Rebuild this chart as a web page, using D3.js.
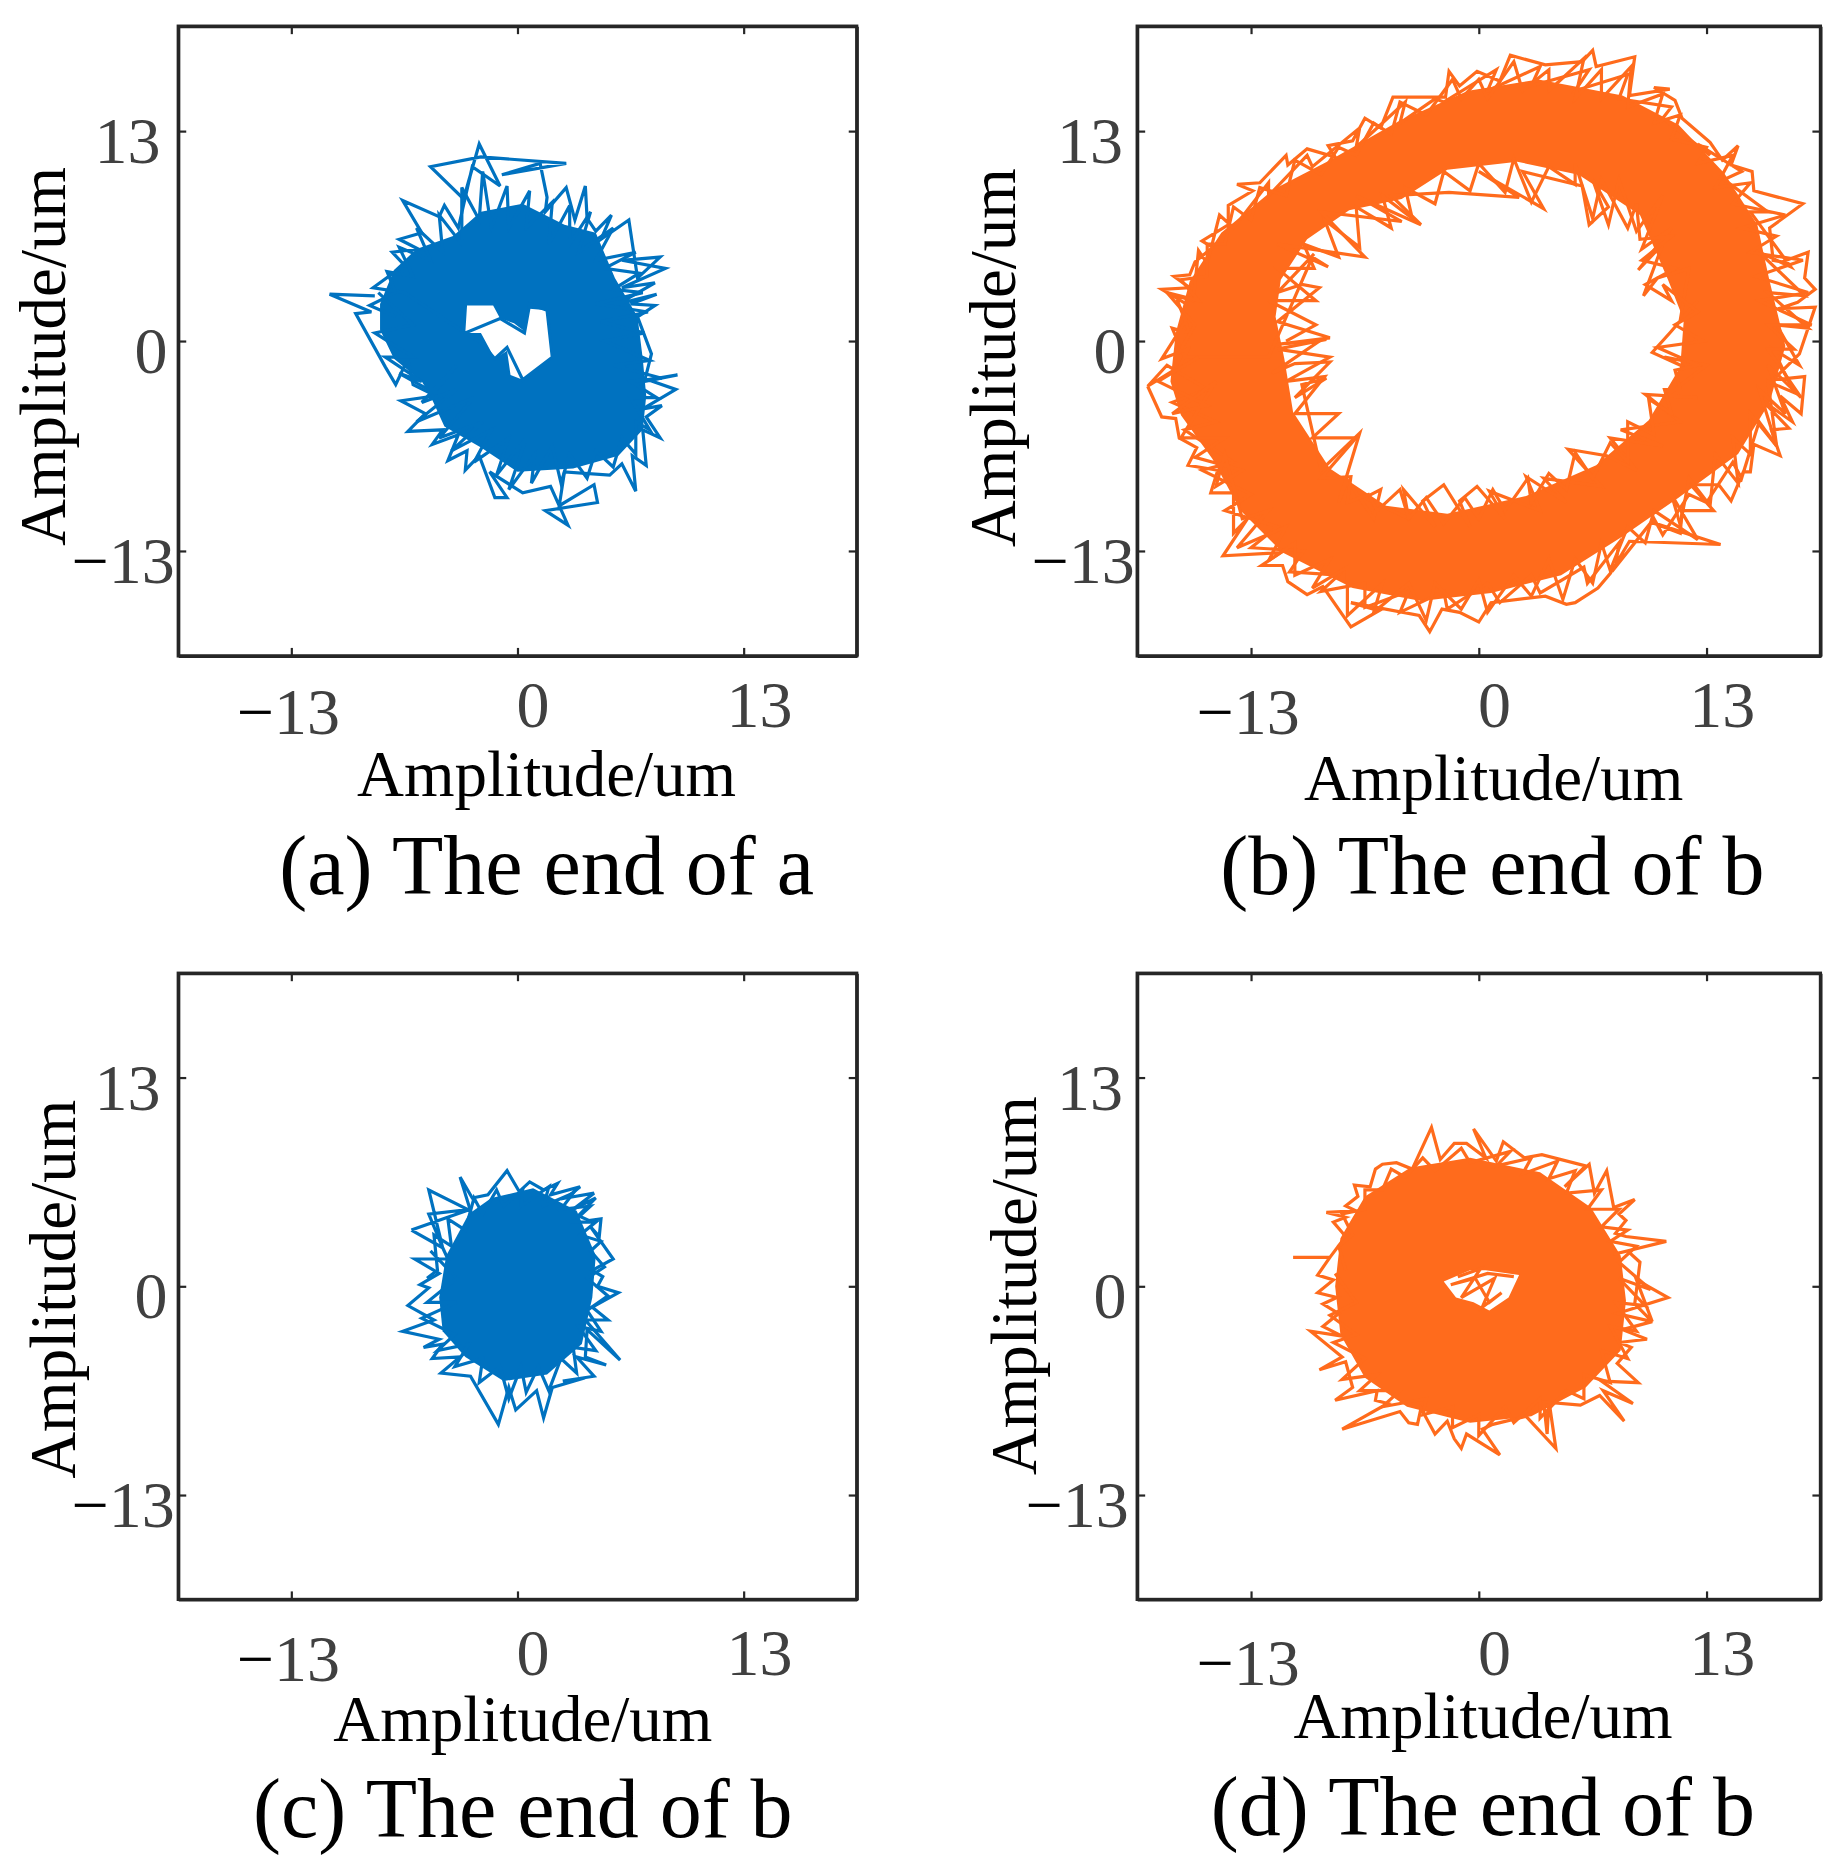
<!DOCTYPE html>
<html><head><meta charset="utf-8">
<script src="https://cdn.jsdelivr.net/npm/d3@7/dist/d3.min.js"></script>
<style>html,body{margin:0;padding:0;background:#fff}svg{display:block}text{font-family:"Liberation Serif",serif}</style>
</head><body>
<svg id="c" width="1843" height="1863"></svg>
<script>
const tickValues = [-13, 0, 13];
const domainLimit = 19.5;
const axisTitle = "Amplitude/um";

const orbitA = [[-10.8,2.9],[-8.2,2.8],[-10.8,2.9],[-8.4,1.8],[-9.3,1.7],[-7.6,-1.6],[-7,-2.7],[-6.3,-1.1],[-6,-2.7],[-4.7,-3.4],[-6.7,-3.7],[-5.3,-4.5],[-6.3,-5.6],[-4.3,-5.5],[-4.9,-6.4],[-3.4,-5.8],[-4,-7.4],[-2.9,-6.8],[-3,-8],[-2.2,-7.1],[-1.3,-9.7],[-.6,-9.7],[-1.6,-8.1],[.3,-9.4],[1.9,-9],[2.9,-11.4],[1.6,-10.5],[4.6,-10],[4.4,-8.9],[2.4,-10.2],[2.7,-8.1],[5.3,-8.3],[6,-7.6],[6.8,-9.3],[6.6,-7.1],[7.4,-7.7],[7.2,-5.5],[8.2,-6],[7.4,-4.7],[8.3,-4],[7.2,-4.2],[9.1,-3],[7.5,-2.4],[9.2,-2.1],[7.3,-2.5],[7.7,-.8],[6.9,1.5],[7.9,2.2],[6.5,2.3],[8,2.9],[5.8,2.3],[7.9,3.6],[6,3.3],[8.5,4.5],[6,5],[8.2,5.2],[6.9,3.9],[6.4,7.5],[4.8,6.3],[5.4,7.8],[4.5,6.8],[4,7.6],[3.9,9.6],[3.3,7.5],[2.8,9.5],[1.6,8],[1.7,8.9],[1.3,11],[-.9,10.3],[2.8,11],[-2.1,11.4],[-5,10.8],[-3.1,8.8],[-2.2,12.2],[-1,9.6],[-2.6,10.8],[-3.4,7],[-4.2,8.4],[-4.5,7.7],[-6.6,8.7],[-5.5,6.7],[-6.8,6.3],[-5.7,5.7],[-7.2,5.5],[-6.5,4.7],[-8.3,3.3],[-6.5,3],
[-3,.5],[-1,1.4],[.4,.5],[.7,2.3],[1.7,1.9],[2,-1],[.3,-2.4],[-.6,-.4],[-1.3,-1.1],[-2.1,-.1],[-3,.5]];
const meshA = [[-8,3],[-6,1],[-8.2,.5],[-6,-1],[-7.6,-1],[-5.5,-2.5],[-6.8,-2],[-4.8,-3.2],[-3.5,-1.5],[-5.5,-3.8],[-3.5,-3],[-5.8,-5],[-2.5,-3.5],[-4.5,-6],[-2,-5],[-3.8,-6.8],[-1.5,-5.5],[-2.5,-7.5],[-.5,-6],[-1.2,-8.3],[.5,-6],[-.5,-9.2],[1,-7],[.8,-8.8],[2,-6.5],[2.5,-8.8],[3,-7],[4,-8.5],[4.5,-6.8],[5.5,-7.8],[6,-6],[6.8,-7],[6.8,-5],[7.6,-5.5],[6.5,-3.5],[8,-3.5],[6.5,-2.5],[8.3,-2.3],[5.5,-1.5],[7.6,-1.2],[5,0],[7.3,.5],[4.8,1.2],[7.5,1.8],[4.5,2.3],[7.2,3],[5.5,3.2],[7,4.2],[5,4.5],[6.8,5.5],[4.5,5],[5.5,7],[3.5,5.5],[4.2,8],[3,6],[3,8.4],[1.8,6],[2,8.6],[.5,7],[.7,9.3],[-.5,7],[-.6,9.6],[-1.5,7],[-2,10.5],[-2.2,7.5],[-3.2,9.5],[-3.2,6],[-4.5,7.8],[-4.3,5.5],[-5.8,7],[-5,5],[-6.8,5.8],[-6,4],[-7.5,4.3],[-7,3],[-8.5,2.2],[-7,1.5]];
const solidA = [
 [[-7.9,2.3],[-7.1,4.4],[-5.8,5.7],[-3.7,6.5],[-2.1,8],[.3,8.5],[2.7,7.2],[4.5,6.7],[5.6,3.9],[6.9,1.5],[7.2,-1.1],[7.4,-3.4],[7.2,-5.5],[5.8,-7.1],[3.2,-7.9],[0,-8.1],[-2.1,-6.6],[-4.2,-5.3],[-5,-3.4],[-5.5,-2.5],[-7.1,-1.1],[-7.9,.7]],
 [[-2.9,2.2],[-1.4,2.2],[-1,1.4],[-.2,1.1],[.4,.6],[.7,2],[1.7,1.9],[1.9,-.1],[2,-1],[.3,-2.4],[-.4,-2.1],[-.6,-.6],[-1.3,-1.1],[-2.1,.5],[-3,.5]]
];

const orbitB = [[-18.9,-2.8],[-18.1,-4.7],[-17.3,-4.8],[-17.1,-6],[-16.1,-6.6],[-16.6,-7.7],[-14.9,-8],[-15.3,-9.4],[-14,-9.4],[-14,-11.9],[-13.2,-11],[-14.6,-13.3],[-11.3,-13.1],[-12.4,-13.9],[-11.2,-13.9],[-10.9,-14.9],[-9.8,-15.7],[-8.9,-15.2],[-7.3,-17.7],[-5.7,-16.7],[-7.3,-16.2],[-3.4,-17],[-2.8,-18],[-2.1,-16.6],[-1.1,-16.8],[0,-17.4],[.7,-16.2],[3.8,-15.8],[5,-16.3],[5.5,-16.2],[6.8,-15.3],[7.5,-14.4],[8.6,-12.4],[13.8,-12.6],[9.8,-11.2],[11.5,-11.9],[11.6,-10.5],[13.4,-10.5],[12.1,-8.9],[13.7,-8.9],[14.4,-9.9],[15.1,-8.1],[15.5,-8.1],[15.7,-6.4],[17.2,-7.1],[16.7,-5.5],[17.7,-5.4],[16.2,-3.7],[17.9,-5],[17.2,-3.4],[18.4,-4.5],[18.6,-2.2],[16.8,-2.4],[18.3,-.8],[19.2,2.1],[17.1,2],[18.2,2.4],[19.2,3.2],[18.6,3.9],[18.8,5.5],[17.3,4.9],[16.8,5],[16.6,7],[18.5,8.5],[15.7,9.3],[15.6,10.5],[14.4,10.9],[14.8,12.1],[13.9,11.2],[13.2,12.3],[11.6,13.8],[11.2,14.9],[10,15.7],[10.9,15.6],[8.6,15.2],[8.9,17.6],[6.7,17],[6.5,18],[5.9,17.3],[3.8,17.1],[1.8,17.7],[1.2,16.1],[-.1,16.7],[-1.1,15.8],[-1.7,16.7],[-1.9,15.1],[-4.9,15.1],[-5.6,13.2],[-6.5,13.8],[-7.2,12.4],[-8.6,12.1],[-8.2,11.4],[-9.8,11.9],[-10.9,10.9],[-11,11.5],[-12.5,9.8],[-13.8,9.7],[-12.9,9.3],[-14.3,8.4],[-14.3,7.2],[-15.8,6.2],[-15.2,5.8],[-16.2,4.9],[-16.5,4.1],[-17.4,4],[-16.5,3.3],[-18.1,3.2],[-16.7,2.3],[-16.7,1.3],[-18.1,-1.1],[-16.6,-.5],[-17.1,-1.6],[-18.9,-2.8],
[-17.8,-1.5],[-15.5,-3],[-17.5,-3.8],[-15,-5],[-16.8,-5.5],[-14,-7.5],[-15.8,-8],[-13,-9.5],[-14.5,-10.5],[-11.5,-11.5],[-13,-12.8],[-10,-13],[-10.8,-14.3],[-8,-14.5],[-9,-15.5],[-6.5,-15],[-6.5,-16.5],[-4,-15.5],[-4.5,-16.8],[-2,-15.5],[-1.8,-16.6],[.5,-15],[1.2,-16.2],[3,-14.5],[3.5,-15.6],[6,-14],[6.2,-15],[8,-12.5],[7.8,-14],[10,-11],[10.5,-12],[12,-9.5],[13,-10],[14.5,-7.5],[15,-8.5],[16,-5],[17,-6.5],[16.5,-2.5],[18,-3.2],[16.8,-.5],[18.3,-1.5],[17,1],[18.8,.8],[16.5,3],[18.6,2.8],[16,5.5],[17.8,4.6],[15.5,8],[16.5,8],[14,10],[15,10.5],[12.5,12.2],[13.2,11.5],[10.5,13.8],[11,14.5],[8,15],[8.5,16.5],[5.5,15.5],[6.3,16.8],[3,15.8],[3.5,17],[.5,15.5],[1,16.8],[-2,14.8],[-2.5,15],[-4.5,13.5],[-4.2,14.8],[-7,12],[-6.8,13.2],[-9.5,10.8],[-9.8,11.5],[-12,9],[-12,9.8],[-14,7],[-14.8,7.8],[-15.5,4.8],[-16,5.6],[-16.3,2.5],[-17.3,2.8],[-16.5,.5],[-17.5,.8],[-16.8,-1],
[-12,-1],[-9.5,5.2],[-8.6,4.6],[-11.5,6],[-6.5,5.2],[-9,8],[-4.4,7.4],[-7,9],[-3.3,7.2],[-5,9],[-1.7,9.2],[2.3,8.9],[0,10.5],[3.7,8.2],[2.5,10.5],[5.9,9.6],[6.3,7.2],[7.4,8.3],[6.5,10],[7.4,7.2],[8,10],[9,6.8],[10.5,9],[9.3,5.7],[11,7],[9.1,4.4],[10.5,6],[9.4,2.8],[10.2,3.9],[12,4.5],[11.5,1.3],[12.5,2.5],[10.9,.5],[9.9,-.7],[11.7,-1.6],[10.6,-1],[13,-1.5],[10.7,-3.4],[12.5,-3.5],[9.5,-3.3],[11.5,-5],[8.1,-5.5],[10.5,-6.5],[7.5,-6],[9,-8],[7.3,-7.1],[5.1,-6.7],[7,-9],[3.7,-8.5],[5,-10],[2.7,-8.4],[3.5,-10.5],[.6,-9.3],[1.5,-11],[-.1,-9],[-1.1,-9.9],[-.5,-11.5],[-2,-8.9],[-3.2,-9.9],[-2.5,-11.5],[-4.3,-9.2],[-4,-11],[-6.5,-9.7],[-5.6,-9.2],[-6,-11],[-7.5,-8.6],[-8,-10],[-6.8,-5.7],[-9,-8],[-10.1,-2.7],[-8.7,-2.3],[-10.5,-3.5],[-8.5,-1.3],[-10.5,-1.4],[-11.8,-2],[-9.1,0],[-11.5,-.2],[-8.5,.2],[-11.5,1.2],[-9.1,3.3],[-10.1,3.5],[-11.5,3],[-9.4,5.4]];
const meshBOuter = [[-16,-1],[-18.3,-2.5],[-15.5,-4],[-17.5,-4.5],[-15,-2.5],[-17,-6],[-14.5,-6],[-16.2,-7.2],[-13.5,-8],[-15,-9],[-14.5,-7],[-13.5,-11],[-12,-10.5],[-13.8,-12.8],[-11,-11.5],[-12,-13.6],[-10.5,-12.5],[-10.5,-14.5],[-8.5,-13.5],[-9.5,-15.3],[-7.5,-14],[-7.5,-17],[-5.5,-15],[-6,-16.8],[-4,-15],[-3,-17.3],[-2.5,-15],[-1,-16.6],[0,-14.8],[.5,-16.8],[2,-14.5],[3,-15.8],[4,-13.5],[4.8,-16],[5.5,-13.5],[6.5,-15],[7,-12.5],[7.5,-14.2],[8.5,-11.5],[9.5,-12.5],[10,-10.5],[12.5,-12.3],[11,-9.5],[11.5,-11.4],[12,-8.5],[13.2,-10.2],[13.5,-7],[14.8,-8.8],[14.5,-6],[15.5,-7],[15.5,-4.5],[17,-6.5],[16,-3],[17.5,-4.5],[16.5,-1.5],[18.4,-3.5],[16.5,-.5],[18,-.5],[16.5,1],[19,1],[16,2.5],[18.8,3],[15.8,4],[18.5,5],[15.5,5.5],[17,6.5],[15,7],[17.5,7.8],[14.5,8.5],[15.5,9.8],[13.5,9.5],[14.5,11.5],[12.5,11],[13,12],[11,12.5],[11.5,14],[10,13.5],[10.5,15.3],[8.5,14.5],[8.7,17],[7,15],[7,16.8],[5.5,15],[6,17.5],[4,15.5],[4,16.8],[2.5,15.5],[2,17.3],[.5,15],[0,16.2],[-1,15],[-1.5,16.2],[-3,14],[-4.5,14.8],[-5,12.8],[-6,13.5],[-7,11.5],[-8,12],[-9,10.3],[-10.5,11.2],[-11,9],[-12.5,9.5],[-13,7.5],[-14,8.3],[-14.5,6],[-15.5,6],[-15.5,4],[-17,3.8],[-16,2.5],[-17.8,3],[-16.2,1],[-17,-.5]];
const meshBInner = [[-11,0],[-9.3,1],[-12,2.5],[-9.3,2.5],[-11.5,4.5],[-9.4,4.5],[-10,6],[-8,5.2],[-8.8,7.5],[-6.8,5.8],[-7,8.3],[-5,7],[-5.5,9],[-3.8,7.6],[-4.2,9.5],[-2.5,8.5],[-2,10.5],[-.5,9.3],[0,11],[1.5,9.2],[2,11.3],[3,8.6],[4,10.8],[5.5,9.7],[5.5,11],[6.5,7.6],[7,10],[8.5,7],[9,8.5],[9.2,6.3],[11,6.5],[9.3,5],[11.2,4.5],[9.5,3.5],[11,2.5],[10.5,3.5],[12.5,1.8],[11.2,1],[12.8,0],[10.2,-.4],[12.5,-1.5],[11.2,-1.8],[11.5,-3],[10.6,-3],[11,-4.5],[9.7,-3.6],[10,-5.8],[8.5,-5],[8.5,-7.5],[7.5,-6.3],[6.5,-8.5],[5.5,-6.9],[5,-9.2],[4,-8.2],[3,-10],[2.8,-8.5],[1.5,-10.5],[.8,-9.2],[0,-11],[-.8,-9.7],[-2,-11.3],[-3,-9.7],[-4,-11],[-4.5,-9.2],[-5.8,-10.5],[-6.3,-9.5],[-7.5,-10],[-7.3,-8.4],[-9,-8.5],[-7,-6],[-9.5,-6],[-8,-4.5],[-10.5,-4.5],[-8.8,-2.2],[-11,-2.5],[-8.5,-1],[-11.5,-.5],[-8.7,.1]];
const solidB = [
 [[-17.6,-2.5],[-17,-4.6],[-15.2,-7.3],[-13.6,-10.5],[-11.2,-13.1],[-7.2,-15.3],[-3.3,-16.1],[.7,-15.6],[4.7,-14.5],[8.2,-12.1],[11.4,-9.7],[14.8,-7],[16.6,-3.8],[17.5,-.3],[16.6,3.7],[15.9,7.2],[14,10.4],[11.4,13.4],[8.2,15.2],[3.4,16.2],[-.6,15.5],[-4.6,13.6],[-8.5,11.2],[-11.7,9.4],[-14.7,6.7],[-16.5,3.7],[-17.3,.5]],
 [[-11.1,-1.1],[-10.6,-4.4],[-8.5,-7.9],[-5.3,-10.2],[-1.8,-10.7],[2.7,-9.6],[6.7,-7.7],[9.7,-4.9],[11.5,-1.6],[11.7,1.3],[10.8,3.8],[9.2,7.8],[5.7,10.3],[2.2,11.1],[-1.8,10.6],[-4.4,8.8],[-7.4,8.1],[-9.8,6.3],[-11.3,3.8],[-11.6,1.5]]
];

const orbitC = [[-6.1,3.5],[-2.7,4.8],[-5.1,4.5],[-4.3,2.4],[-5.1,6],[-2.7,4.7],[-3.3,6.8],[-2.6,5.5],[-1.7,5.7],[-.6,7.2],[.1,5.9],[.7,6.5],[1.5,6],[2.3,6.4],[1.9,5.7],[3.6,6.2],[2.8,5.5],[4.4,5.8],[3.2,4.8],[4.5,5.5],[3.5,4.4],[4.1,4.1],[4.8,4.2],[4.7,3.1],[4.2,3.7],[5.5,1.7],[4.3,1],[4.9,.6],[4.6,0],[5.8,-.4],[4.3,-1.3],[5.2,-2.1],[3.9,-2.1],[5.9,-4.6],[4,-2.7],[3.9,-4.4],[5.1,-4.9],[3.4,-4.4],[4.4,-5.6],[2.6,-5.9],[3.9,-5.7],[2,-6.3],[1.5,-8.2],[1.1,-6.5],[-.1,-7.7],[-.5,-6.3],[-1.1,-8.6],[-2.7,-5.6],[-4.4,-5.4],[-3.3,-4.4],[-4.9,-4.5],[-4.3,-3.6],[-5.4,-3.8],[-4.5,-3.3],[-6.6,-2.8],[-4.8,-2.1],[-6.3,-1.2],[-5.1,-.1],[-5.6,.1],[-4.5,.8],[-5.9,1.7],[-4,1.7],[-4.3,2.4],[-6.1,3.5]];
const meshC = [[-5,2.2],[-3.5,.5],[-5.2,-1],[-3.5,-1],[-5.5,-2],[-3.6,-3],[-4.6,-4],[-2.8,-3.6],[-3.6,-5],[-2,-4.5],[-2.2,-6],[-1,-5],[-.5,-7],[.2,-5],[.5,-6.6],[1.2,-5],[1.8,-6.5],[2.5,-4.5],[3.4,-5.4],[3.2,-3.8],[4.5,-4],[3.5,-2.5],[4.8,-2.8],[4,-1.5],[5.2,-.6],[4,.5],[5,1.2],[4.2,2.2],[4.8,2.8],[3.6,3.2],[4.5,4],[3.2,4],[4.2,5],[2.5,4.8],[3.2,5.8],[1.5,5],[1.8,6.2],[.2,5],[.3,6],[-.8,5],[-1.2,6],[-2,4.5],[-2.5,5.5],[-3,3.5],[-4,4.2],[-3.8,2.5],[-4.8,3.2],[-4.6,1],[-5.2,.5]];
const solidC = [[[-4.5,-.7],[-4.1,1.9],[-2.8,4.5],[-1.5,5.5],[.9,6.1],[3.4,4.7],[4.5,1.9],[4.3,-.7],[3.7,-3.6],[1.7,-5.5],[-.8,-5.9],[-3,-4.4],[-4.3,-2.8]]];

const orbitD = [[-10.6,1.8],[-8.5,1.8],[-9.2,.7],[-8.3,.4],[-9.2,-.4],[-8.1,-.7],[-8.9,-1.1],[-8,-1.7],[-8.9,-2.5],[-7.8,-3.1],[-9.6,-2.8],[-7.8,-4.4],[-9.1,-5.2],[-7.6,-4.7],[-7.2,-6.3],[-8.2,-7.1],[-5.8,-6.5],[-5.9,-7.1],[-5.2,-7.3],[-7.8,-8.9],[-4.5,-7.8],[-4,-8.5],[-3.5,-8.6],[-3.3,-7.6],[-2.5,-9.2],[-1.8,-8.4],[-1.4,-9.5],[-1,-10.1],[-.7,-9.2],[1.2,-10.5],[.2,-8.9],[.8,-8.6],[2.7,-8.1],[4.4,-10.1],[4,-7.1],[3.9,-9.2],[3.7,-7.2],[5.8,-7.4],[6.9,-6.8],[8.3,-8.4],[7.1,-6.5],[8.8,-7.3],[7,-5.9],[9.1,-6],[7.9,-4.8],[8.7,-3.8],[8,-3.5],[9.6,-3.3],[8.2,-2.7],[9.9,-2.2],[7.9,-1.7],[10.8,-.7],[9,.4],[9.9,-2.2],[8.9,-1.1],[9.2,1.5],[8.5,2.2],[7.7,2],[10.7,2.8],[8.4,3.1],[7.8,3.3],[8.4,4.1],[8,4.5],[8.9,5.4],[7.7,4.9],[7.3,7.2],[6.6,5.8],[6.3,7.6],[4.9,6.2],[6.1,7.5],[3.6,8.2],[2.6,8],[1.4,9],[1,7.8],[-.3,9.8],[.4,8],[-.7,8.9],[-1.4,8.9],[-2.2,7.9],[-2.7,9.9],[-3.8,7.3],[-4.7,7.7],[-5.5,7.6],[-5.9,7.3],[-6.2,6.2],[-7.1,6.3],[-6.9,5.6],[-7.6,5],[-7,4.7],[-8.7,4.6],[-7.6,4.3],[-8.3,4],[-7.6,3.1],[-8.5,1.8]];
const meshD = [[-8.2,.8],[-7,-1],[-8.5,-1.8],[-7,-3],[-8.3,-3.5],[-6.5,-4.5],[-7.8,-5.8],[-5.8,-5.5],[-6.8,-6.5],[-4.5,-6.5],[-5.5,-7.5],[-3,-7],[-3.2,-8],[-1.5,-7.5],[-1.5,-8.8],[0,-8],[0,-9.3],[1.5,-7.5],[2,-8.5],[3.5,-7],[3.5,-8.2],[5,-6.5],[6,-7],[6,-5.5],[7.5,-6],[7,-4],[8.5,-4.5],[7.5,-2.5],[9,-2.8],[7.8,-1],[9.5,-1.2],[8,.5],[9.8,-.2],[8,1.5],[9,2.5],[7.5,2.8],[8.5,3.5],[7,3.7],[8,4.8],[6.2,4.8],[7,6],[5,5.8],[5.5,7.2],[4,6.7],[4.5,7.8],[2.5,7],[3,8],[1,7.5],[1.8,8.4],[-.5,7.7],[-1,8.6],[-2.5,7.2],[-3.2,8],[-4.2,6.8],[-5,7.3],[-5.5,6],[-6.5,6],[-6.5,4.8],[-7.8,4.5],[-7.2,3.2],[-8,2.5],[-7.6,1]];
const holeStrokesD = [[-1.2,.6],[.1,1.1],[-1,-.7],[.9,.5],[.2,-1.3],[1.3,-.4],[.6,-1],[-.2,.5],[-1.6,.1],[.5,.8],[2,.6]];
const solidD = [
 [[-8.2,0],[-7.9,3],[-6.5,5.6],[-3.9,7.4],[-.5,8],[3.5,7.1],[6.4,4.9],[8.1,1.9],[8.4,-.9],[8.1,-4],[6.1,-6.3],[3,-8.1],[-.5,-8.5],[-4.1,-7.5],[-6.5,-5.7],[-7.9,-3]],
 [[-2,.3],[-.5,1],[.4,1],[2.3,.7],[1.7,-.7],[.6,-1.5],[-.3,-1],[-1.3,-.7]]
];

// Layout, in the coordinates of the 1551-wide view, scaled up by k.
const k = 1843 / 1551;
const panels = [
 {x0:150,x1:721,y0:22,y1:552,color:"#0072C0",orbit:[orbitA,meshA],solid:solidA,caption:"(a) The end of a",cx:460,cy:752,tx:460,ty:670,lx:55,ly:300,xBase:[66,60,60],yRight:[-3,-9,-15]},
 {x0:957,x1:1532,y0:22,y1:552,color:"#FF6B1C",orbit:[orbitB,meshBOuter,meshBInner],solid:solidB,caption:"(b) The end of b",cx:1256,cy:752,tx:1257,ty:673,lx:854,ly:301,xBase:[66,60,60],yRight:[-2,-9,-12]},
 {x0:150,x1:721,y0:819,y1:1346,color:"#0072C0",orbit:[orbitC,meshC],solid:solidC,caption:"(c) The end of b",cx:440,cy:1546,tx:440,ty:1465,lx:63,ly:1085,xBase:[69,64,64],yRight:[-3,-9,-15]},
 {x0:957,x1:1532,y0:819,y1:1346,color:"#FF6B1C",orbit:[orbitD,meshD,holeStrokesD],solid:solidD,caption:"(d) The end of b",cx:1248,cy:1544,tx:1248,ty:1463,lx:872,ly:1082,xBase:[72,64,64],yRight:[-7,-9,-12]}
];
const xLabelRight = [41,27,41];
const svg = d3.select("#c");
const ink = "#262626", grey = "#404040";

function label(g, x, y, v, anchor) {
  const t = g.append("text").attr("x", x).attr("y", y).attr("text-anchor", anchor)
    .style("font-size", "66px").attr("fill", grey);
  if (v < 0) t.append("tspan").attr("fill", "#000").text("\u2212");
  t.append("tspan").text(Math.abs(v));
}

panels.forEach(p => {
  const g = svg.append("g");
  const x = d3.scaleLinear().domain([-domainLimit, domainLimit]).range([p.x0 * k, p.x1 * k]);
  const y = d3.scaleLinear().domain([-domainLimit, domainLimit]).range([p.y1 * k, p.y0 * k]);
  const line = d3.line().x(d => x(d[0])).y(d => y(d[1]));

  const solidPath = p.solid.map(r => line(r) + "Z").join("");
  g.append("path").attr("d", solidPath).attr("fill", p.color).attr("fill-rule", "evenodd");
  p.orbit.forEach(o => g.append("path").attr("d", line(o)).attr("fill", "none")
    .attr("stroke", p.color).attr("stroke-width", 3.2).attr("stroke-linejoin", "miter"));

  const axes = [
    [d3.axisBottom(x), `translate(0,${p.y1 * k})`, -8],
    [d3.axisTop(x), `translate(0,${p.y0 * k})`, -8],
    [d3.axisLeft(y), `translate(${p.x0 * k},0)`, -8],
    [d3.axisRight(y), `translate(${p.x1 * k},0)`, -8]
  ];
  axes.forEach(([a, tr, size]) => {
    const ag = g.append("g").attr("transform", tr)
      .call(a.tickValues(tickValues).tickSize(size).tickSizeOuter(0).tickFormat(""));
    ag.select(".domain").attr("stroke", ink).attr("stroke-width", 3.2);
    ag.selectAll(".tick line").attr("stroke", ink).attr("stroke-width", 2.2);
  });
  g.append("rect").attr("x", p.x0 * k).attr("y", p.y0 * k)
    .attr("width", (p.x1 - p.x0) * k).attr("height", (p.y1 - p.y0) * k)
    .attr("fill", "none").attr("stroke", ink).attr("stroke-width", 3.2);

  tickValues.forEach((v, i) => {
    label(g, x(v) + xLabelRight[i] * k, (p.y1 + p.xBase[i]) * k, v, "end");
    label(g, (p.x0 + p.yRight[i]) * k, y(v) + 27 * k, v, "end");
  });

  g.append("text").attr("x", p.tx * k).attr("y", p.ty * k).attr("text-anchor", "middle")
    .style("font-size", "65px").attr("fill", "#000").text(axisTitle);
  g.append("text").attr("transform", `translate(${p.lx * k},${p.ly * k}) rotate(-90)`).attr("text-anchor", "middle")
    .style("font-size", "65px").attr("fill", "#000").text(axisTitle);
  g.append("text").attr("x", p.cx * k).attr("y", p.cy * k).attr("text-anchor", "middle")
    .style("font-size", "84px").attr("fill", "#000").text(p.caption);
});
</script>
</body></html>
